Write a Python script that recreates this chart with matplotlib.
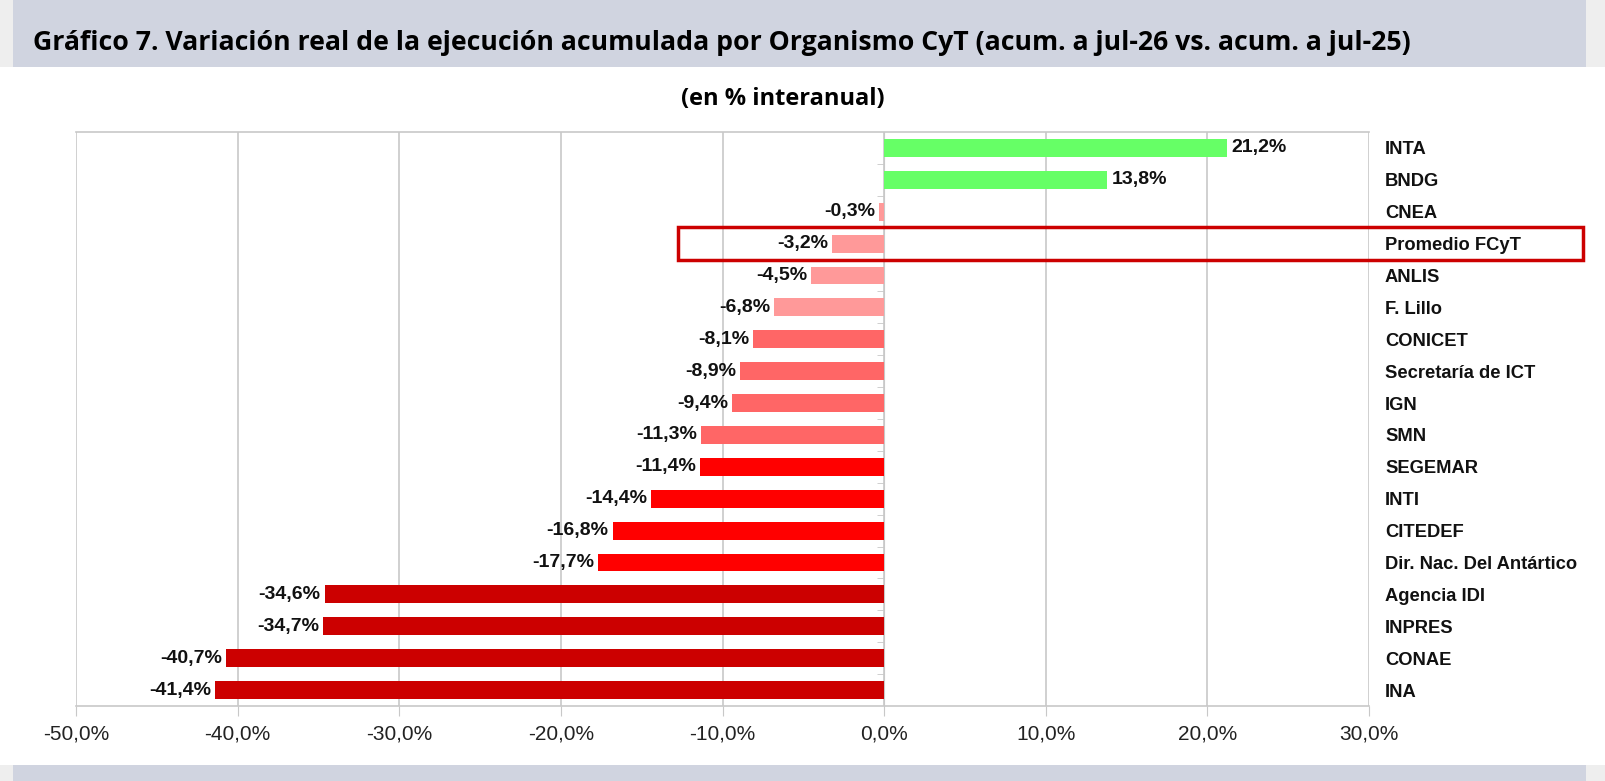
import numpy as np
import matplotlib
matplotlib.use("Agg")
import matplotlib.pyplot as plt
from matplotlib.patches import Rectangle
from matplotlib.transforms import blended_transform_factory

# data
orgs = ["INTA", "BNDG", "CNEA", "Promedio FCyT", "ANLIS", "F. Lillo", "CONICET",
        "Secretaría de ICT", "IGN", "SMN", "SEGEMAR", "INTI", "CITEDEF",
        "Dir. Nac. Del Antártico", "Agencia IDI", "INPRES", "CONAE", "INA"]
vals = [21.2, 13.8, -0.3, -3.2, -4.5, -6.8, -8.1, -8.9, -9.4, -11.3, -11.4,
        -14.4, -16.8, -17.7, -34.6, -34.7, -40.7, -41.4]
groups = ["pos", "pos", "leve", "leve", "leve", "leve", "medio", "medio", "medio",
          "medio", "fuerte", "fuerte", "fuerte", "fuerte", "grave", "grave", "grave", "grave"]
group_colors = {"pos": "#66FF66", "leve": "#FF9999", "medio": "#FF6666",
                "fuerte": "#FF0000", "grave": "#CC0000"}
xticks = [-50, -40, -30, -20, -10, 0, 10, 20, 30]
highlight = "Promedio FCyT"

W, H = 1605, 781
fig = plt.figure(figsize=(W / 100, H / 100), dpi=100)
fig.patch.set_facecolor("white")

band = "#D0D4E0"
side = "#EEEEEE"
# header / footer bands
fig.patches.append(Rectangle((0, 1 - 67 / H), 1, 67 / H, transform=fig.transFigure,
                             facecolor=side, edgecolor="none", zorder=0))
fig.patches.append(Rectangle((13 / W, 1 - 67 / H), (1586 - 13) / W, 67 / H,
                             transform=fig.transFigure, facecolor=band, edgecolor="none", zorder=0))
fig.patches.append(Rectangle((0, 0), 1, 16 / H, transform=fig.transFigure,
                             facecolor=side, edgecolor="none", zorder=0))
fig.patches.append(Rectangle((13 / W, 0), (1586 - 13) / W, 16 / H,
                             transform=fig.transFigure, facecolor=band, edgecolor="none", zorder=0))

fig.text(33 / W, 1 - 43 / H,
         "Gráfico 7. Variación real de la ejecución acumulada por Organismo CyT (acum. a jul-26 vs. acum. a jul-25)",
         fontsize=19.2, fontweight="bold", family="Open Sans", color="black", va="center")
fig.text(783 / W, 1 - 99 / H, "(en % interanual)", fontsize=17, fontweight="bold",
         family="Open Sans", ha="center", va="center")

ax = fig.add_axes([76 / W, 1 - 706 / H, (1369 - 76) / W, (706 - 132) / H])
y = np.arange(len(orgs))
cols = [group_colors[g] for g in groups]
bars = ax.barh(y, vals, height=0.56, color=cols, zorder=2)

# spines first: moving a spine resets the ticks
ax.spines["left"].set_position(("data", 0))
ax.spines["left"].set_color("#C8C8C8")
ax.spines["left"].set_zorder(1)
for s in ["top", "bottom"]:
    ax.spines[s].set_color("#C8C8C8")
    ax.spines[s].set_linewidth(1.2)
ax.spines["right"].set_visible(False)

ax.set_xlim(-50, 30)
ax.set_ylim(len(orgs) - 0.5, -0.5)
ax.set_xticks(xticks)
ax.set_xticklabels([f"{v:.1f}%".replace(".", ",") for v in xticks],
                   family="Liberation Sans", fontsize=15, color="#222222")
ax.tick_params(axis="x", length=7, color="#C8C8C8", pad=6)
ax.grid(axis="x", color="#C8C8C8", linewidth=1.2, zorder=0)

# category labels on the right, minor ticks on the zero axis
ax.tick_params(axis="y", which="major", left=False, right=False,
               labelleft=False, labelright=True, pad=8)
ax.tick_params(axis="y", which="minor", left=True, right=False, length=5,
               color="#C8C8C8", direction="out")
ax.set_yticks(y)
ax.set_yticks(y[:-1] + 0.5, minor=True)
ax.set_yticklabels(orgs, family="Liberation Sans", fontweight="bold",
                   fontsize=13.2, color="#111111")

labels = [f"{v:.1f}%".replace(".", ",") for v in vals]
for b, v, lab in zip(bars, vals, labels):
    ax.annotate(lab, (v, b.get_y() + b.get_height() / 2),
                xytext=(3 if v > 0 else -3, 0), textcoords="offset points",
                ha="left" if v > 0 else "right", va="center",
                family="Liberation Sans", fontweight="bold", fontsize=14,
                color="#111111")

# highlight box around the FCyT average
i = orgs.index(highlight)
tr = blended_transform_factory(fig.transFigure, ax.transData)
ax.add_patch(Rectangle((678 / W, i + 0.52), (1583 - 678) / W, -1.04, transform=tr,
                       fill=False, edgecolor="#CC0000", linewidth=2.5, clip_on=False, zorder=5))

fig.savefig("out.png", dpi=100)
